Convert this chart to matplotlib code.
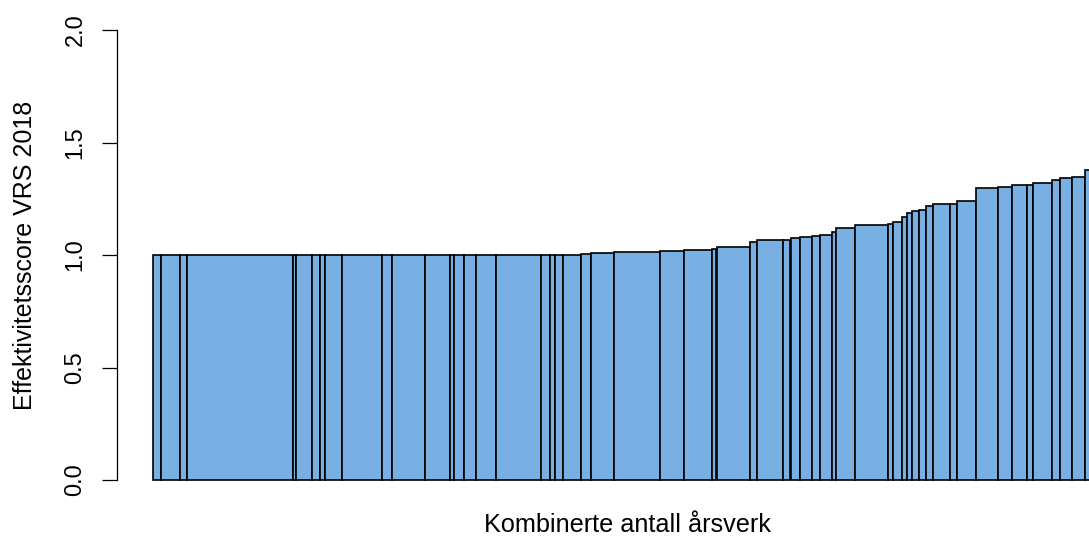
import numpy as np
import matplotlib
matplotlib.use("Agg")
import matplotlib.pyplot as plt

plt.rcParams["font.family"] = ["Liberation Sans", "DejaVu Sans"]

# bredde (kombinerte årsverk) og effektivitetsscore per enhet, sortert
arsverk = [
    3.7, 9.7, 3.6, 52.7, 1.7, 7.8, 4.2, 2.5, 8.3, 20.2,
    4.8, 16.7, 12.2, 2.2, 5.2, 6.0, 10.0, 22.3, 4.4, 2.8,
    3.6, 9.2, 5.0, 11.7, 23.0, 11.7, 14.2, 2.2, 16.6, 3.4,
    13.3, 3.7, 4.7, 6.2, 3.6, 6.0, 2.0, 9.5, 16.8, 2.5,
    4.5, 2.5, 2.5, 3.3, 3.8, 3.4, 8.3, 3.6, 9.7, 10.8,
    7.1, 7.3, 3.1, 9.6, 3.8, 6.2, 6.2, 10.0,
]
score = [
    1.0, 1.0, 1.0, 1.0, 1.0, 1.0, 1.0, 1.0, 1.0, 1.0,
    1.0, 1.0, 1.0, 1.0, 1.0, 1.0, 1.0, 1.0, 1.0, 1.0,
    1.0, 1.0, 1.005, 1.01, 1.012, 1.02, 1.022, 1.025, 1.035, 1.058,
    1.065, 1.067, 1.075, 1.08, 1.083, 1.09, 1.1, 1.122, 1.135, 1.14,
    1.148, 1.17, 1.185, 1.195, 1.198, 1.218, 1.225, 1.226, 1.238, 1.298,
    1.302, 1.31, 1.311, 1.322, 1.335, 1.342, 1.345, 1.38,
]

widths = np.array(arsverk)
heights = np.array(score)
lefts = np.concatenate([[0], np.cumsum(widths)[:-1]])

fig = plt.figure(figsize=(10.89, 5.40), dpi=100)
ax = fig.add_axes([117 / 1089, 60 / 540, (1089 - 117) / 1089, 450 / 540])

ax.bar(lefts, heights, width=widths, align="edge", color="#79B0E3",
       edgecolor="black", linewidth=1.2, clip_on=False)

ax.set_ylim(0, 2)
ax.set_xlim(-(153.3 - 117) / 2, (1089 - 153.3) / 2)

for s in ["top", "right", "bottom"]:
    ax.spines[s].set_visible(False)
ax.spines["left"].set_bounds(0, 2)
ax.spines["left"].set_linewidth(0.9)
ax.set_xticks([])
ax.set_yticks([0, 0.5, 1.0, 1.5, 2.0])
ax.set_yticklabels(["0.0", "0.5", "1.0", "1.5", "2.0"], rotation=90, va="center")
ax.tick_params(axis="y", direction="out", length=11, width=0.9, labelsize=17, pad=11)

ax.set_ylabel("Effektivitetsscore VRS 2018", fontsize=18)
ax.yaxis.set_label_coords(-0.082, 0.5)
fig.text(628 / 1089, 1 - 525 / 540, "Kombinerte antall årsverk", fontsize=18.2,
         ha="center", va="center")

fig.savefig("out.png", dpi=100, facecolor="white")
